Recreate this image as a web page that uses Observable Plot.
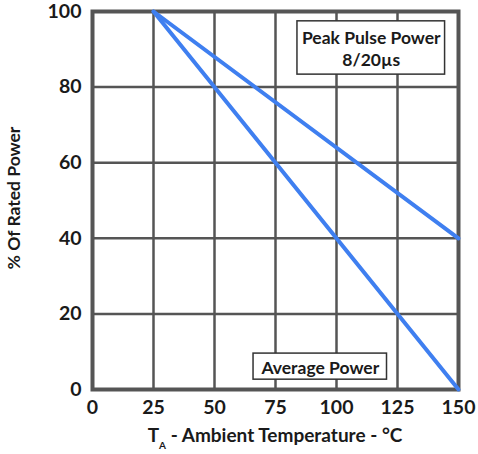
<!DOCTYPE html>
<html><head><meta charset="utf-8">
<script src="https://cdn.jsdelivr.net/npm/d3@7"></script>
<script src="https://cdn.jsdelivr.net/npm/@observablehq/plot@0.6"></script>
<style>body{margin:0;background:#fff}</style>
</head><body><div id="chart"></div>
<script>
const xTicks = [0, 25, 50, 75, 100, 125, 150];
const yTicks = [0, 20, 40, 60, 80, 100];
const temps = [25, 150];
const peakPulse = [100, 40];
const averagePower = [100, 0];
const labels = [
  {name: "Peak Pulse Power\n8/20µs", x1: 84, x2: 144.5, y1: 83.3, y2: 97.4},
  {name: "Average Power", x1: 66, x2: 120.7, y1: 2.6, y2: 9.5}
];

const lineData = [
  ...temps.map((t, i) => ({series: "peak", t, v: peakPulse[i]})),
  ...temps.map((t, i) => ({series: "avg", t, v: averagePower[i]}))
];
const font = "Lato, 'Open Sans', sans-serif";
const ink = "#1a1a1a";
const chart = Plot.plot({
  width: 478, height: 454,
  marginLeft: 92, marginRight: 20, marginTop: 11, marginBottom: 65,
  style: {fontFamily: font, fontWeight: "bold", color: ink, background: "#fff"},
  x: {domain: [0, 150], ticks: xTicks},
  y: {domain: [0, 100], ticks: yTicks},
  marks: [
    Plot.gridX(xTicks, {stroke: "#555", strokeOpacity: 1, strokeWidth: 2.5}),
    Plot.gridY(yTicks, {stroke: "#555", strokeOpacity: 1, strokeWidth: 2.5}),
    Plot.frame({stroke: "#555", strokeWidth: 4}),
    Plot.line(lineData, {x: "t", y: "v", z: "series", stroke: "#3f7ff0", strokeWidth: 4}),
    Plot.rect(labels, {x1: "x1", x2: "x2", y1: "y1", y2: "y2", fill: "white", stroke: "#333", strokeWidth: 1.5}),
    Plot.text(labels, {x: d => (d.x1 + d.x2) / 2, y: d => (d.y1 + d.y2) / 2, text: "name", fontSize: 17.5, fill: ink, lineHeight: 1.26}),
    Plot.axisX(xTicks, {tickSize: 0, tickPadding: 11, fontSize: 19.5, label: null, fill: ink}),
    Plot.axisY(yTicks, {tickSize: 0, tickPadding: 11, fontSize: 19.5, label: null, fill: ink}),
  ]
});
const svg = d3.select(chart);
svg.append("text")
  .attr("transform", "translate(16,198) rotate(-90)")
  .attr("text-anchor", "middle").attr("dominant-baseline", "middle")
  .attr("font-size", 17.5).attr("font-weight", "bold").attr("font-family", font).attr("fill", ink)
  .text("% Of Rated Power");
const xl = svg.append("text")
  .attr("x", 275).attr("y", 442)
  .attr("text-anchor", "middle")
  .attr("font-size", 19).attr("font-weight", "bold").attr("font-family", font).attr("fill", ink);
xl.append("tspan").text("T");
xl.append("tspan").attr("font-size", 10).attr("dy", 7).text("A");
xl.append("tspan").attr("dy", -7).text(" - Ambient Temperature - °C");
document.getElementById("chart").append(chart);
</script>
</body></html>
